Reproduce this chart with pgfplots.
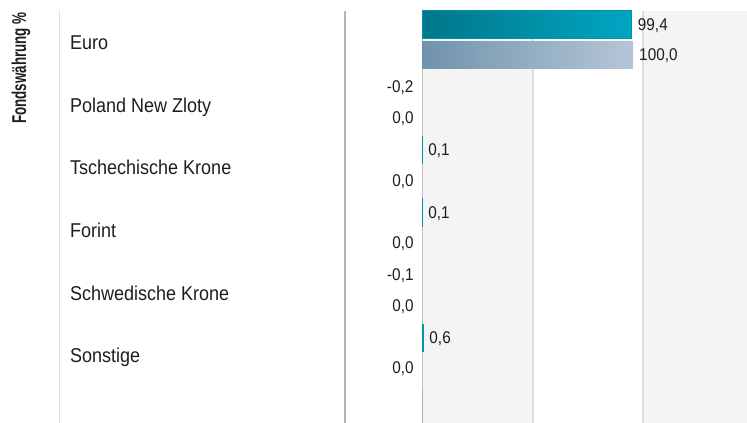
\documentclass[border=0pt]{standalone}
\usepackage{fontspec}
\setmainfont{Liberation Sans}[FakeStretch=0.9]
\newfontfamily\ylabfont{Liberation Sans}[FakeStretch=0.67]
\usepackage{pgfplots}
\pgfplotsset{compat=1.18}
\usepackage{pgfplotstable}
\definecolor{fundA}{HTML}{00768A}
\definecolor{fundB}{HTML}{00A6C2}
\definecolor{fundM}{HTML}{0093AA}
\definecolor{benchA}{HTML}{7093AC}
\definecolor{benchB}{HTML}{B5C6D6}
\definecolor{bandgrey}{HTML}{F4F4F4}
\definecolor{gridgrey}{HTML}{DCDCDC}
\definecolor{axgrey}{HTML}{B4B4B4}
\definecolor{lightline}{HTML}{DEDEDE}
\definecolor{zgrey}{HTML}{C4C4C4}
\definecolor{txt}{HTML}{1E1E1E}

\pgfplotstableread{
k v
5 99.4
4 -0.2
3 0.1
2 0.1
1 -0.1
0 0.6
}\fund
\pgfplotstableread{
k v
5 100.0
4 0.0
3 0.0
2 0.0
1 0.0
0 0.0
}\bench

\begin{document}
\begin{tikzpicture}
\begin{axis}[
  set layers,
  clip=false,
  scale only axis,
  width=402pt, height=412pt,
  xmin=-36.5, xmax=154,
  ymin=-1.118, ymax=5.463,
  xbar,
  bar width=27.5pt,
  axis line style={draw=none},
  tick style={draw=none},
  major tick length=0pt,
  xtick={52.6,104.8},
  xticklabels={},
  xmajorgrids,
  major grid style={draw=gridgrey, line width=1.5pt},
  ytick={0,1,2,3,4,5},
  yticklabels={Sonstige,Schwedische Krone,Forint,Tschechische Krone,Poland New Zloty,Euro},
  yticklabel style={anchor=west, inner xsep=0pt, xshift=-275pt, yshift=-6pt,
    text height=0.72em, text depth=0pt, text=txt,
    font=\fontsize{20}{24}\selectfont},
  /pgf/number format/.cd, fixed, fixed zerofill, precision=1, use comma, assume math mode=true,
  /pgfplots/.cd,
  lbl/.style={
    draw=none, fill=none, forget plot,
    point meta=explicit symbolic,
    nodes near coords={\ifdim\pgfplotspointmeta pt>0pt\hspace{6pt}\pgfmathprintnumber{\pgfplotspointmeta}\else\llap{\pgfmathprintnumber{\pgfplotspointmeta}\hspace{9pt}}\fi},
    nodes near coords style={anchor=west, inner sep=0pt, text height=0.72em, text depth=0pt,
      yshift=-2pt, text=txt, font=\fontsize{17}{20}\selectfont},
  },
  pos/.style={x filter/.expression={x<=0 ? nan : x}},
]
\begin{pgfonlayer}{axis background}
\fill[bandgrey] (axis cs:0,-1.118) rectangle (axis cs:52.6,5.463);
\fill[bandgrey] (axis cs:104.8,-1.118) rectangle (axis cs:154,5.463);
\draw[line width=0.8pt, zgrey] (axis cs:0,-1.118) -- (axis cs:0,5.463);
\draw[line width=0.8pt, axgrey] (axis cs:0,-1.118) -- (axis cs:0,-0.543);
\end{pgfonlayer}

% bars (only positive values are visible, as in the reference)
\addplot[pos, draw=fundM, line width=1pt, left color=fundA, right color=fundB, bar shift=15.25pt]
  table[x=v, y=k]{\fund};
\addplot[pos, draw=none, left color=benchA, right color=benchB, bar shift=-15.25pt]
  table[x=v, y=k]{\bench};
% value labels
\addplot[lbl, bar shift=15.25pt] table[x=v, y=k, meta=v]{\fund};
\addplot[lbl, bar shift=-15.25pt] table[x=v, y=k, meta=v]{\bench};

\draw[line width=1.5pt, axgrey] (rel axis cs:0,0) -- (rel axis cs:0,1);
\draw[line width=1.5pt, lightline] ([xshift=-285.5pt]rel axis cs:0,0) -- ([xshift=-285.5pt]rel axis cs:0,1);
\node[rotate=90, anchor=east, inner sep=0pt, text=txt,
  font=\ylabfont\bfseries\fontsize{20}{22}\selectfont]
  at ([xshift=-324pt, yshift=-1pt]rel axis cs:0,1) {Fondswährung \%};
\coordinate (SW) at (rel axis cs:0,0);
\coordinate (NE) at (rel axis cs:1,1);
\end{axis}
\pgfresetboundingbox
\useasboundingbox ([xshift=-345pt]SW) rectangle ([yshift=11pt]NE);
\end{tikzpicture}
\end{document}
